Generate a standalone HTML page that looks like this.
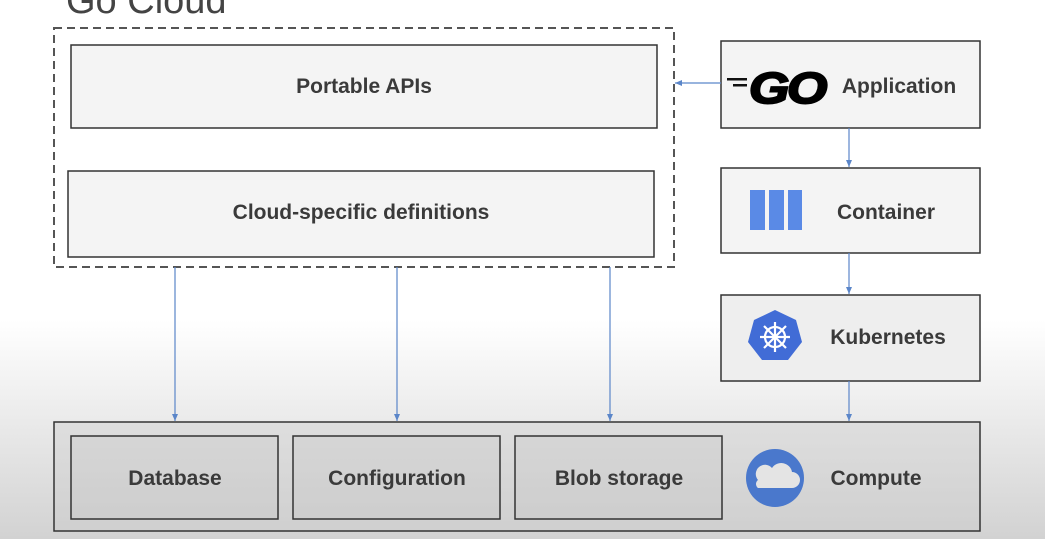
<!DOCTYPE html>
<html><head><style>
html,body{margin:0;padding:0}
body{width:1045px;height:539px;overflow:hidden;background:linear-gradient(#fff 0,#fff 320px,#d2d2d2 539px);font-family:"Liberation Sans",sans-serif}
</style></head><body>
<svg width="1045" height="539" viewBox="0 0 1045 539" xmlns="http://www.w3.org/2000/svg" style="position:absolute;left:0;top:0">
<defs><marker id="a" markerWidth="8" markerHeight="8" refX="7" refY="4" orient="auto" markerUnits="userSpaceOnUse"><path d="M0,1 L7,4 L0,7 z" fill="#5b86c9"/></marker></defs>
<text x="66" y="13" font-size="38" fill="#444" font-family="Liberation Sans">Go Cloud</text>
<rect x="54" y="28" width="620" height="239" fill="none" stroke="#555" stroke-width="2" stroke-dasharray="8,5"/>
<g stroke="#333" stroke-width="1.5">
<rect x="71" y="45" width="586" height="83" fill="#f4f4f4"/>
<rect x="68" y="171" width="586" height="86" fill="#f4f4f4"/>
<rect x="721" y="41" width="259" height="87" fill="#f4f4f4"/>
<rect x="721" y="168" width="259" height="85" fill="#f4f4f4"/>
<rect x="721" y="295" width="259" height="86" fill="#eeeeee"/>
<rect x="54" y="422" width="926" height="109" fill="rgba(200,200,200,0.35)"/>
<rect x="71" y="436" width="207" height="83" fill="rgba(200,200,200,0.3)"/>
<rect x="293" y="436" width="207" height="83" fill="rgba(200,200,200,0.3)"/>
<rect x="515" y="436" width="207" height="83" fill="rgba(200,200,200,0.3)"/>
</g>
<g stroke="#5b86c9" stroke-width="1.2" marker-end="url(#a)">
<line x1="175" y1="267" x2="175" y2="421"/>
<line x1="397" y1="267" x2="397" y2="421"/>
<line x1="610" y1="267" x2="610" y2="421"/>
<line x1="849" y1="128" x2="849" y2="167"/>
<line x1="849" y1="253" x2="849" y2="294"/>
<line x1="849" y1="381" x2="849" y2="421"/>
<line x1="721" y1="83" x2="675" y2="83"/>
</g>
<g font-size="21" font-weight="bold" fill="#3a3a3a" text-anchor="middle">
<text x="364" y="93">Portable APIs</text>
<text x="361" y="219">Cloud-specific definitions</text>
<text x="175" y="485">Database</text>
<text x="397" y="485">Configuration</text>
<text x="619" y="485">Blob storage</text>
<text x="899" y="93">Application</text>
<text x="886" y="219">Container</text>
<text x="888" y="344">Kubernetes</text>
<text x="876" y="485">Compute</text>
</g>
<g fill="#111"><rect x="727" y="78" width="20" height="2.5"/><rect x="733" y="84" width="14" height="2.5"/></g>
<text x="749" y="103" font-size="44" font-weight="bold" font-style="italic" fill="#000" stroke="#000" stroke-width="2" letter-spacing="-2" textLength="76" lengthAdjust="spacingAndGlyphs">GO</text>
<g fill="#5a8ae6"><rect x="750" y="190" width="15" height="40"/><rect x="769" y="190" width="15" height="40"/><rect x="788" y="190" width="14" height="40"/></g>
<polygon points="775,310 796,320 802,342 788,360 762,360 748,342 754,320" fill="#416cd6"/>
<g stroke="#fff" stroke-width="2.2" fill="none"><circle cx="775" cy="337" r="10"/><line x1="775" y1="322" x2="775" y2="352"/><line x1="760" y1="337" x2="790" y2="337"/><line x1="764" y1="326" x2="786" y2="348"/><line x1="786" y1="326" x2="764" y2="348"/></g>
<circle cx="775" cy="478" r="29" fill="#4a78cc"/>
<path d="M758,488 h34 a8,8 0 0 0 0,-16 a11,11 0 0 0 -20,-4 a8,8 0 0 0 -14,12 a5,5 0 0 0 0,8 z" fill="#e4e4e4"/>
</svg>
</body></html>
